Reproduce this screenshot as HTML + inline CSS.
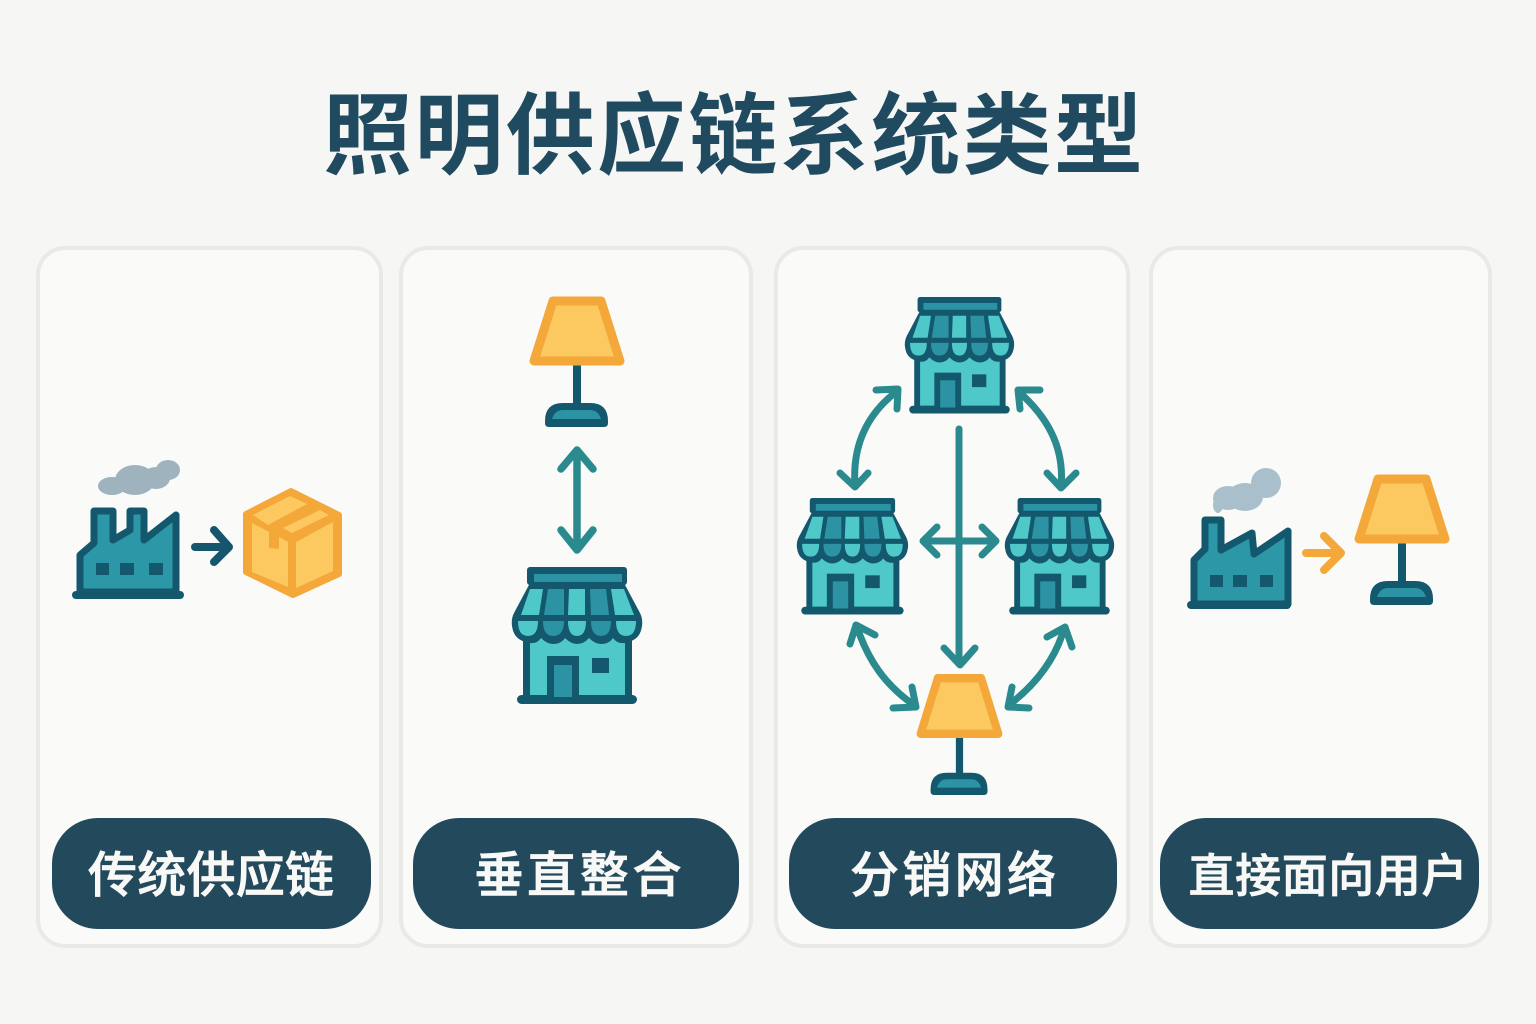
<!DOCTYPE html>
<html lang="zh"><head><meta charset="utf-8"><title>照明供应链系统类型</title>
<style>html,body{margin:0;padding:0;background:#f6f6f4}svg{display:block}
text{font-family:"Liberation Sans","Noto Sans CJK SC",sans-serif}</style></head>
<body>
<svg xmlns="http://www.w3.org/2000/svg" width="1536" height="1024" viewBox="0 0 1536 1024">
<defs>
<g id="store">
  <path d="M530 583 L514 613 Q511 619 512 626 Q514 641 528 641 L626 641 Q640 641 642 626 Q643 619 640 613 L624 583Z" fill="#14586e"/>
  <circle cx="528" cy="627" r="15" fill="#14586e"/><circle cx="553" cy="628" r="15" fill="#14586e"/><circle cx="577" cy="628" r="15" fill="#14586e"/><circle cx="601" cy="628" r="15" fill="#14586e"/><circle cx="626" cy="627" r="15" fill="#14586e"/>
  <rect x="523" y="636" width="109" height="62" fill="#14586e"/>
  <path d="M530 643 Q537 644 541 638 Q547 644 553 644 Q561 644 565 638 Q571 644 577 644 Q584 644 589 638 Q595 644 601 644 Q609 644 613 638 Q617 644 625 643 V695 H530Z" fill="#4fc8c9"/>
  <rect x="517" y="695" width="120" height="9" rx="4.5" fill="#14586e"/>
  <rect x="527" y="567" width="100" height="18" rx="3" fill="#14586e"/>
  <rect x="534" y="574" width="88" height="8" fill="#2b93a4"/>
  <path d="M530 589H543L539 615H521Z" fill="#4fc8c9"/><path d="M548 589H564V615H544Z" fill="#2b93a4"/><path d="M569 589H585V615H568Z" fill="#4fc8c9"/><path d="M590 589H606L609 615H591Z" fill="#2b93a4"/><path d="M611 589H624L634 615H615Z" fill="#4fc8c9"/>
  <path d="M518 621H538Q538 636 528 636Q518 636 518 621Z" fill="#4fc8c9"/><path d="M543 621H564Q564 636 553 636Q543 636 543 621Z" fill="#2b93a4"/><path d="M568 621H586Q586 636 577 636Q568 636 568 621Z" fill="#4fc8c9"/><path d="M591 621H611Q611 636 601 636Q591 636 591 621Z" fill="#2b93a4"/><path d="M616 621H636Q636 636 626 636Q616 636 616 621Z" fill="#4fc8c9"/>
  <rect x="547" y="656" width="32" height="42" fill="#14586e"/><rect x="554" y="665" width="18" height="32" fill="#2b93a4"/>
  <rect x="592" y="658" width="17" height="15" fill="#14586e"/>
</g>
<g id="lamp">
  <rect x="573" y="360" width="8" height="48" fill="#14586e"/>
  <path d="M545 421Q545 403 563 403H590Q608 403 608 421V423Q608 427 604 427H549Q545 427 545 423Z" fill="#14586e"/>
  <path d="M552 419Q555 410 563 410H590Q598 410 601 419Z" fill="#2b93a4"/>
  <path d="M553 301 H601 L620 361 H534Z" fill="#fcc860" stroke="#f5a83a" stroke-width="9" stroke-linejoin="round"/>
</g>
</defs>
<rect width="1536" height="1024" fill="#f6f6f4"/>
<text x="733" y="167" text-anchor="middle" font-size="89" font-weight="700" fill="#1f4a5f" textLength="820" lengthAdjust="spacing">照明供应链系统类型</text>

<g fill="#fafaf9" stroke="#e9e9e7" stroke-width="4">
<rect x="38" y="248" width="343" height="698" rx="27"/>
<rect x="401" y="248" width="350" height="698" rx="27"/>
<rect x="776" y="248" width="352" height="698" rx="27"/>
<rect x="1151" y="248" width="339" height="698" rx="27"/>
</g>
<g fill="#234a5c">
<rect x="52" y="818" width="319" height="111" rx="46"/>
<rect x="413" y="818" width="326" height="111" rx="46"/>
<rect x="789" y="818" width="328" height="111" rx="46"/>
<rect x="1160" y="818" width="319" height="111" rx="46"/>
</g>
<g fill="#f8f8f6" stroke="#f8f8f6" stroke-width=".8" font-weight="500" text-anchor="middle">
<text x="211" y="892" font-size="49" textLength="246" lengthAdjust="spacing">传统供应链</text>
<text x="578" y="892" font-size="49" textLength="207" lengthAdjust="spacing">垂直整合</text>
<text x="953" y="892" font-size="49" textLength="206" lengthAdjust="spacing">分销网络</text>
<text x="1328" y="892" font-size="46" textLength="279" lengthAdjust="spacing">直接面向用户</text>
</g>

<!-- card 1 -->
<g fill="#9fb3bf"><ellipse cx="112" cy="486" rx="14" ry="9"/><ellipse cx="135" cy="480" rx="20" ry="15"/><ellipse cx="156" cy="478" rx="14" ry="11"/><ellipse cx="168" cy="470" rx="12" ry="10"/></g>
<path d="M94 511H113V540L130 530V511H144V540L176 515V592H80V555L94 543Z" fill="#2b97a7" stroke="#14586e" stroke-width="7" stroke-linejoin="round"/>
<rect x="72" y="591" width="112" height="8" rx="4" fill="#14586e"/>
<g fill="#14586e"><rect x="96" y="563" width="13" height="12"/><rect x="120" y="563" width="14" height="12"/><rect x="149" y="563" width="14" height="12"/></g>
<path d="M195 547H229M214 530L229 547L214 562" fill="none" stroke="#16566c" stroke-width="8" stroke-linecap="round" stroke-linejoin="round"/>
<path d="M291 491L339 515V574L293 595L246 572V514Z" fill="#f5a83a" stroke="#f5a83a" stroke-width="6" stroke-linejoin="round"/>
<g fill="#fcc860">
<path d="M253 515L290 496L307 504L268 525Z"/><path d="M283 528L320 510L329 515L292 533Z"/>
<path d="M252 523L269 532V548L279 549V537L288 542V587L252 572Z"/><path d="M296 542L333 522V571L296 588Z"/>
</g>

<!-- card 2 -->
<use href="#lamp"/>
<path d="M577 450V550M561 469L577 450L593 469M561 530L577 550L593 530" fill="none" stroke="#2a8a8e" stroke-width="7.5" stroke-linecap="round" stroke-linejoin="round"/>
<use href="#store"/>

<!-- card 3 -->
<use href="#store" transform="translate(905 297) scale(.838 .85) translate(-512 -567)"/>
<use href="#store" transform="translate(797 498) scale(.853 .85) translate(-512 -567)"/>
<use href="#store" transform="translate(1005 498) scale(.838 .85) translate(-512 -567)"/>
<use href="#lamp" transform="translate(917 674.5) scale(.904 .927) translate(-530 -297)"/>
<g fill="none" stroke="#2a8a8e" stroke-width="7" stroke-linecap="round" stroke-linejoin="round">
<path d="M959 429V664M944 648L960 665L975 648"/>
<path d="M923 541H996M937 527L923 541L937 555M982 527L996 541L982 555"/>
<path d="M896 392C870 412 852 442 855 485M876 390L898 389L897 409M840 473L855 487L868 473"/>
<path d="M1019 392C1045 415 1065 445 1061 487M1040 390L1018 390L1020 409M1047 473L1061 488L1076 473"/>
<path d="M857 627C868 660 885 685 914 705M875 635L856 625L850 644M893 708L916 707L912 687"/>
<path d="M1064 629C1055 660 1035 685 1009 705M1047 637L1065 627L1072 647M1029 708L1008 707L1012 687"/>
</g>

<!-- card 4 -->
<g fill="#aabfcc"><ellipse cx="1228" cy="498" rx="15" ry="12"/><ellipse cx="1245" cy="497" rx="18" ry="14"/><ellipse cx="1266" cy="483" rx="15" ry="15"/><ellipse cx="1218" cy="505" rx="5" ry="8"/></g>
<path d="M1205 520H1221V550L1252 533L1254 554L1288 531V604H1194V560L1205 549Z" fill="#2b97a7" stroke="#14586e" stroke-width="7" stroke-linejoin="round"/>
<rect x="1187" y="601" width="104" height="8" rx="4" fill="#14586e"/>
<g fill="#14586e"><rect x="1210" y="575" width="13" height="12"/><rect x="1233" y="575" width="14" height="12"/><rect x="1260" y="575" width="13" height="12"/></g>
<path d="M1306 553H1341M1324 536L1341 553L1324 570" fill="none" stroke="#f5a83a" stroke-width="8" stroke-linecap="round" stroke-linejoin="round"/>
<use href="#lamp" transform="translate(825 178)"/>
</svg>
</body></html>
